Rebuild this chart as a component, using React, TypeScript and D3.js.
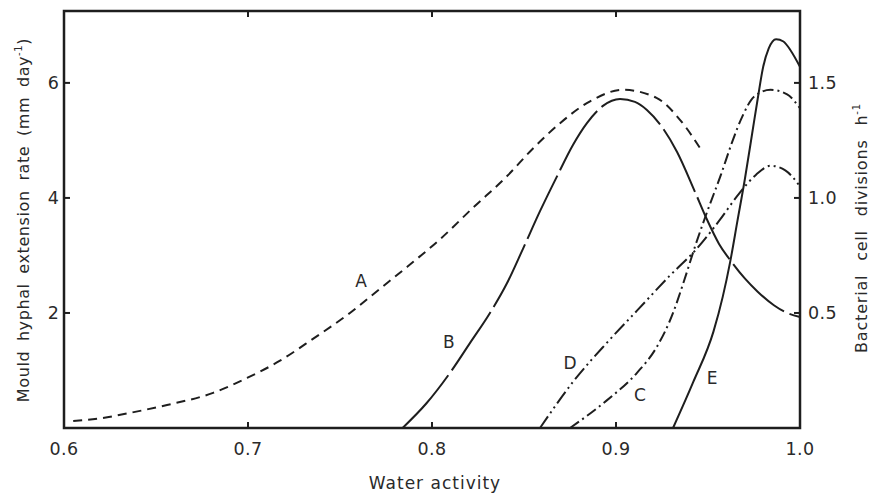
import React from "react";
import * as d3 from "d3";

// Water activity vs growth (left axis: mould mm/day, right axis: bacteria divisions/h)
const curveA: [number, number][] = [
  [0.605, 0.12], [0.62, 0.17], [0.637, 0.27], [0.656, 0.4], [0.681, 0.61], [0.6995, 0.87],
  [0.7174, 1.17], [0.7353, 1.55], [0.7554, 2.0], [0.7717, 2.42], [0.7864, 2.8], [0.8043, 3.28],
  [0.8223, 3.83], [0.8408, 4.38], [0.8549, 4.86], [0.8696, 5.3], [0.8859, 5.68], [0.9038, 5.88],
  [0.922, 5.74], [0.935, 5.35], [0.947, 4.8],
];
const curveB: [number, number][] = [
  [0.784, 0], [0.797, 0.43], [0.8098, 0.96], [0.8207, 1.48], [0.8315, 2.0], [0.8408, 2.52],
  [0.8495, 3.12], [0.8587, 3.77], [0.868, 4.38], [0.8766, 4.92], [0.8842, 5.3], [0.8929, 5.6],
  [0.9022, 5.72], [0.9103, 5.67], [0.9168, 5.53], [0.9332, 4.8], [0.943, 4.1], [0.9495, 3.62],
  [0.956, 3.2], [0.963, 2.88], [0.97, 2.6], [0.977, 2.37], [0.986, 2.13], [0.993, 2.0], [1.0, 1.93],
];
const curveC: [number, number][] = [
  [0.875, 0], [0.895, 0.12], [0.9114, 0.24], [0.922, 0.35], [0.931, 0.5], [0.937, 0.64],
  [0.943, 0.79], [0.95, 0.95], [0.957, 1.1], [0.963, 1.24], [0.969, 1.36], [0.975, 1.44],
  [0.984, 1.47], [0.993, 1.45], [1.0, 1.39],
];
const curveD: [number, number][] = [
  [0.8587, 0], [0.8766, 0.2], [0.895, 0.37], [0.9114, 0.51], [0.929, 0.66], [0.944, 0.78],
  [0.956, 0.9], [0.967, 1.02], [0.976, 1.1], [0.984, 1.14], [0.992, 1.12], [1.0, 1.05],
];
const curveE: [number, number][] = [
  [0.931, 0], [0.942, 0.2], [0.953, 0.42], [0.958, 0.57], [0.962, 0.72], [0.966, 0.9],
  [0.97, 1.08], [0.974, 1.28], [0.977, 1.43], [0.98, 1.57], [0.983, 1.65], [0.987, 1.69],
  [0.991, 1.68], [0.995, 1.64], [1.0, 1.57],
];

const xTicks = [0.6, 0.7, 0.8, 0.9, 1.0];
const xTickLabels = ["0.6", "0.7", "0.8", "0.9", "1.0"];
const leftTicks = [2, 4, 6];
const rightTicks = [0.5, 1.0, 1.5];
const rightTickLabels = ["0.5", "1.0", "1.5"];

const curveLabels: { text: string; x: number; y: number; axis: "L" | "R" }[] = [
  { text: "A", x: 0.7615, y: 2.55, axis: "L" },
  { text: "B", x: 0.8092, y: 1.5, axis: "L" },
  { text: "D", x: 0.875, y: 0.283, axis: "R" },
  { text: "C", x: 0.913, y: 0.143, axis: "R" },
  { text: "E", x: 0.9522, y: 0.217, axis: "R" },
];

const W = 874;
const H = 495;
const left = 64, right = 800, top = 11, bottom = 428;

export default function App() {
  const x = d3.scaleLinear().domain([0.6, 1.0]).range([left, right]);
  const yL = d3.scaleLinear().domain([0, 7.25]).range([bottom, top]);
  const yR = d3.scaleLinear().domain([0, 7.25 / 4]).range([bottom, top]);

  const lineL = d3.line<[number, number]>().x((d) => x(d[0])).y((d) => yL(d[1])).curve(d3.curveMonotoneX);
  const lineR = d3.line<[number, number]>().x((d) => x(d[0])).y((d) => yR(d[1])).curve(d3.curveMonotoneX);

  const ink = "#1e1e1e";
  const txt = "#2a2a2a";
  const font = "'DejaVu Sans', Verdana, sans-serif";
  const tl = 6;

  return (
    <svg width={W} height={H} style={{ position: "absolute", left: 0, top: 0, background: "#fff" }} fontFamily={font}>
      <rect x={0} y={0} width={W} height={H} fill="#fff" />
      {/* frame */}
      <rect x={left} y={top} width={right - left} height={bottom - top} fill="none" stroke={ink} strokeWidth={2.5} />
      {/* x ticks */}
      {xTicks.map((t, i) => (
        <g key={"xt" + i}>
          {i > 0 && i < xTicks.length - 1 && (
            <>
              <line x1={x(t)} x2={x(t)} y1={bottom} y2={bottom - tl} stroke={ink} strokeWidth={2} />
              <line x1={x(t)} x2={x(t)} y1={top} y2={top + tl} stroke={ink} strokeWidth={2} />
            </>
          )}
          <text x={x(t)} y={455} textAnchor="middle" fontSize={17.5} letterSpacing={0.4} fill={txt}>{xTickLabels[i]}</text>
        </g>
      ))}
      {leftTicks.map((t) => (
        <g key={"lt" + t}>
          <line x1={left} x2={left + tl} y1={yL(t)} y2={yL(t)} stroke={ink} strokeWidth={2} />
          <text x={59} y={yL(t)} dy="0.36em" textAnchor="end" fontSize={17.5} fill={txt}>{t}</text>
        </g>
      ))}
      {rightTicks.map((t, i) => (
        <g key={"rt" + t}>
          <line x1={right} x2={right - tl} y1={yR(t)} y2={yR(t)} stroke={ink} strokeWidth={2} />
          <text x={808} y={yR(t)} dy="0.36em" textAnchor="start" fontSize={17.5} letterSpacing={0.4} fill={txt}>{rightTickLabels[i]}</text>
        </g>
      ))}
      {/* curves */}
      <path d={lineL(curveA) || ""} fill="none" stroke={ink} strokeWidth={2} strokeDasharray="9,6" />
      <path d={lineL(curveB) || ""} fill="none" stroke={ink} strokeWidth={2} strokeDasharray="70,6" />
      <path d={lineR(curveC) || ""} fill="none" stroke={ink} strokeWidth={2} strokeDasharray="11,4,2,4" />
      <path d={lineR(curveD) || ""} fill="none" stroke={ink} strokeWidth={2} strokeDasharray="14,4,2,4,2,4" />
      <path d={lineR(curveE) || ""} fill="none" stroke={ink} strokeWidth={2} />
      {curveLabels.map((l) => (
        <text key={l.text} x={x(l.x)} y={l.axis === "L" ? yL(l.y) : yR(l.y)} dy="0.36em" textAnchor="middle" fontSize={17} fill={txt}>
          {l.text}
        </text>
      ))}
      {/* axis titles */}
      <text x={435} y={489} textAnchor="middle" fontSize={17} letterSpacing={1} fill={txt}>Water activity</text>
      <text transform="translate(29,220) rotate(-90)" textAnchor="middle" fontSize={16} letterSpacing={0.6} wordSpacing={4} fill={txt}>
        Mould hyphal extension rate (mm day<tspan dy={-7} fontSize={10}>-1</tspan><tspan dy={7}>)</tspan>
      </text>
      <text transform="translate(867,228) rotate(-90)" textAnchor="middle" fontSize={16} letterSpacing={0.8} wordSpacing={8} fill={txt}>
        Bacterial cell divisions h<tspan dy={-7} fontSize={10}>-1</tspan>
      </text>
    </svg>
  );
}
